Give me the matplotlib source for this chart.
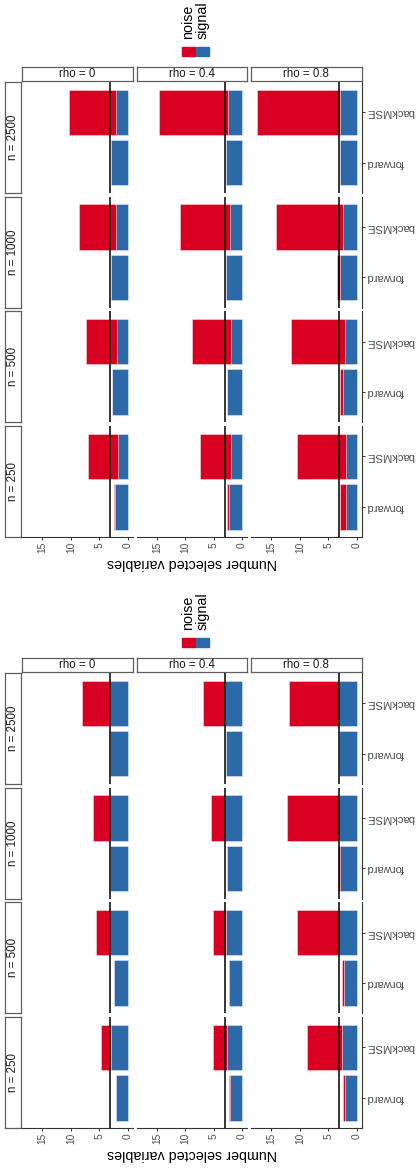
import matplotlib
matplotlib.use("Agg")
import matplotlib.pyplot as plt
from matplotlib.patches import Rectangle

plt.rcParams['font.family'] = ['Liberation Sans', 'DejaVu Sans']

# facet labels (rows = n, columns = rho)
n_labels = ['n = 2500', 'n = 1000', 'n = 500', 'n = 250']
rho_labels = ['rho = 0', 'rho = 0.4', 'rho = 0.8']
methods = ['forward', 'backMSE']
true_signal = 3
x_ticks = [0, 5, 10, 15]

# upper chart
sig_back_a = [[2.06, 2.42, 2.90], [1.95, 2.18, 2.30], [1.83, 2.00, 2.06], [1.70, 1.90, 1.83]]
noise_back_a = [[8.34, 12.28, 14.60], [6.55, 8.82, 11.90], [5.47, 6.85, 9.44], [5.30, 5.50, 8.67]]
sig_fwd_a = [[2.90, 2.90, 2.95], [2.85, 2.90, 2.95], [2.65, 2.60, 2.30], [2.20, 2.24, 1.77]]
noise_fwd_a = [[0.0, 0.0, 0.0], [0.0, 0.0, 0.45], [0.10, 0.10, 0.60], [0.15, 0.46, 1.13]]

# lower chart
sig_back_b = [[3.0, 3.0, 3.0], [3.0, 3.0, 3.0], [3.0, 2.9, 3.0], [2.95, 2.6, 2.5]]
noise_back_b = [[5.0, 3.8, 8.9], [3.1, 2.5, 9.3], [2.5, 2.3, 7.5], [1.75, 2.5, 6.2]]
sig_fwd_b = [[3.0, 2.9, 3.0], [3.0, 2.7, 2.9], [2.4, 2.35, 2.2], [2.1, 2.2, 2.0]]
noise_fwd_b = [[0.0, 0.0, 0.0], [0.0, 0.0, 0.3], [0.0, 0.0, 0.3], [0.0, 0.05, 0.4]]

W, H = 417, 1169
RED = '#DA0021'
BLUE = '#2C69A9'
GRID = '#5f5f5f'

fig = plt.figure(figsize=(W / 100, H / 100), dpi=100)


def box(x, y, w, h):
    # pixel box (top-left origin) -> figure fraction
    return [x / W, 1 - (y + h) / H, w / W, h / H]


def strip(x, y, w, h, label, rot):
    sax = fig.add_axes(box(x, y, w, h))
    sax.set_xticks([])
    sax.set_yticks([])
    for s in sax.spines.values():
        s.set_color(GRID)
        s.set_linewidth(0.9)
    sax.text(0.5, 0.5, label, rotation=rot, ha='center', va='center',
             fontsize=8.3, color='#1a1a1a', transform=sax.transAxes)


def draw_chart(off, sig_back, noise_back, sig_fwd, noise_fwd):
    # legend
    fig.add_artist(Rectangle((182 / W, 1 - (off + 56) / H), 13 / W, 9 / H,
                             color=RED, transform=fig.transFigure))
    fig.add_artist(Rectangle((196 / W, 1 - (off + 56) / H), 13 / W, 9 / H,
                             color=BLUE, transform=fig.transFigure))
    fig.text(188.5 / W, 1 - (off + 39) / H, 'noise', rotation=90,
             ha='center', va='bottom', fontsize=10.3)
    fig.text(202.5 / W, 1 - (off + 39) / H, 'signal', rotation=90,
             ha='center', va='bottom', fontsize=10.3)

    for j in range(3):
        x0 = 22 + j * 114.5
        strip(x0, off + 67, 110.5, 14, rho_labels[j], 0)
    for i in range(4):
        y0 = off + 82 + i * 114.7
        strip(5, y0, 16, 111, n_labels[i], 90)
        for j in range(3):
            x0 = 22 + j * 114.5
            ax = fig.add_axes(box(x0, y0, 110.5, 111))
            sig = [sig_fwd[i][j], sig_back[i][j]]
            noi = [noise_fwd[i][j], noise_back[i][j]]
            ax.barh([1, 2], sig, height=0.9, color=BLUE,
                    edgecolor=(1, 1, 1, 0.45), linewidth=0.6)
            for k in range(2):
                if noi[k] > 0:
                    ax.barh(k + 1, noi[k], left=sig[k], height=0.9, color=RED,
                            edgecolor=(1, 1, 1, 0.45), linewidth=0.6)
            ax.axvline(true_signal, color='black', lw=1.1)
            ax.set_xlim(18.6, -0.88)
            ax.set_ylim(0.4, 2.6)
            for s in ax.spines.values():
                s.set_visible(False)
            ax.tick_params(length=2.5, width=0.7, color='#333333',
                           labelsize=7.3, labelcolor='#4d4d4d', pad=1)
            if i == 3:
                ax.spines['bottom'].set_visible(True)
                ax.spines['bottom'].set_color('#333333')
                ax.spines['bottom'].set_linewidth(0.8)
                ax.set_xticks(x_ticks)
                ax.set_xticklabels([str(t) for t in x_ticks], rotation=90, va='top')
            else:
                ax.set_xticks([])
            if j == 2:
                ax.spines['right'].set_visible(True)
                ax.spines['right'].set_color('#333333')
                ax.spines['right'].set_linewidth(0.8)
                ax.yaxis.tick_right()
                ax.set_yticks([1, 2])
                ax.set_yticklabels(methods, rotation=180, fontsize=8.1,
                                   va='center', ha='left')
            else:
                ax.set_yticks([])
            ax.patch.set_alpha(0)

    fig.text(191.7 / W, 1 - (off + 563) / H, 'Number selected variables',
             rotation=180, ha='center', va='center', fontsize=10.3)


draw_chart(0, sig_back_a, noise_back_a, sig_fwd_a, noise_fwd_a)
draw_chart(591, sig_back_b, noise_back_b, sig_fwd_b, noise_fwd_b)

fig.savefig('out.png', dpi=100)
